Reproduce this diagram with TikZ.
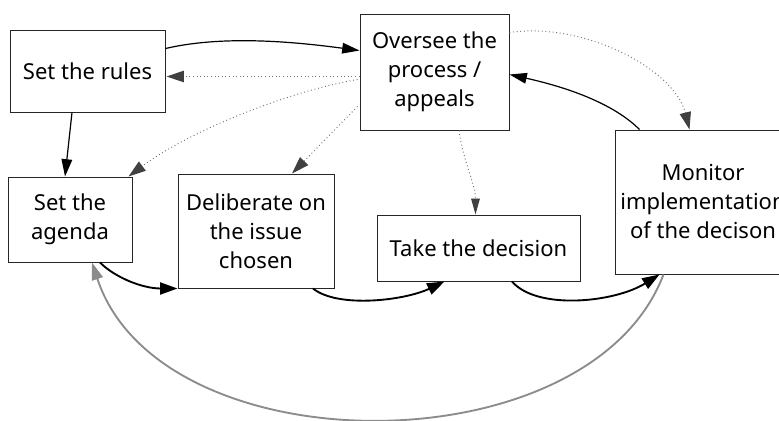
\documentclass[tikz,border=0pt]{standalone}
\usepackage{fontspec}
\setmainfont{Noto Sans}
\usepackage{tikz}
\usetikzlibrary{arrows.meta,calc}

\tikzset{
  stage/.style={draw=black!85, line width=0.75pt, align=center, inner sep=0pt,
    font=\fontsize{16.5}{21.75}\selectfont},
  flow/.style={line width=0.9pt, -{Triangle[length=13pt,width=8pt]}},
  bigflow/.style={line width=1.4pt, -{Triangle[length=13pt,width=9pt]}},
  backflow/.style={draw=black!45, line width=1.4pt, -{Triangle[length=13pt,width=8.5pt,color=black!45]}},
  watch/.style={draw=black!55, dotted, line width=0.7pt, -{Triangle[length=13pt,width=8.5pt,color=black!75]}}
}

\begin{document}
\begin{tikzpicture}[x=0.75pt,y=0.75pt,yscale=-1,xscale=1]
\useasboundingbox (0,0) rectangle (779,421);
\clip (0,0) rectangle (779,421);

% Stages
\node [stage, minimum width=116.25pt, minimum height=61.5pt] (rules) at (87.5,71) {Set the rules};
\node [stage, minimum width=111.75pt, minimum height=87pt] (oversee) at (434.5,72) {Oversee the\\process /\\appeals};
\node [stage, minimum width=93pt, minimum height=63.75pt] (agenda) at (70,219.5) {Set the\\agenda};
\node [stage, minimum width=117pt, minimum height=85.5pt] (delib) at (256,231) {Deliberate on\\the issue\\chosen};
\node [stage, minimum width=152.25pt, minimum height=49.5pt] (take) at (478.5,248) {Take the decision};
\node [stage, minimum width=132pt, minimum height=108pt] (monitor) at (703,202) {Monitor\\implementation\\of the decison};

% Solid connectors
\draw [flow] ($(rules.north east)+(0,19)$) .. controls +(60,-14) and +(-60,-8) .. ($(oversee.north west)+(0,37)$);
\draw [flow] ($(rules.south)+(-15.5,0)$) -- ($(agenda.north)+(-5,0)$);
\draw [flow] ($(monitor.north west)+(25,0)$) .. controls +(-30,-30) and +(45,10) .. ($(oversee.north east)+(0,61)$);

% Main cycle
\draw [bigflow] ($(agenda.south)+(30,0)$) .. controls +(15,15) and +(-35,0) .. (delib.south west);
\draw [bigflow] ($(delib.south)+(57,0)$) .. controls +(25,20) and +(-40,19) .. ($(take.south)+(-34,0)$);
\draw [bigflow] ($(take.south)+(33.5,0)$) .. controls +(25,29) and +(-45,28) .. ($(monitor.south west)+(45,0)$);
\draw [backflow] ($(monitor.south west)+(49,0)$) .. controls +(-74,195) and +(68,206) .. ($(agenda.south)+(22,0)$);

% Oversight (dotted)
\draw [watch] ($(oversee.north west)+(0,63)$) -- ($(rules.north east)+(1,47)$);
\draw [watch] ($(oversee.north west)+(-2,66)$) .. controls +(-70,12) and +(60,-45) .. ($(agenda.north east)+(-4,0)$);
\draw [watch] ($(oversee.north west)+(-2,93)$) -- ($(delib.north)+(36,0)$);
\draw [watch, -{Triangle[length=12pt,width=6.5pt,color=black!75]}] ($(oversee.south)+(24.5,0)$) .. controls +(4,30) and +(0,-30) .. ($(take.north)+(-3,0)$);
\draw [watch] ($(oversee.north east)+(0,19)$) .. controls +(75,-11) and +(-15,-60) .. ($(monitor.north west)+(75,0)$);

\end{tikzpicture}
\end{document}
